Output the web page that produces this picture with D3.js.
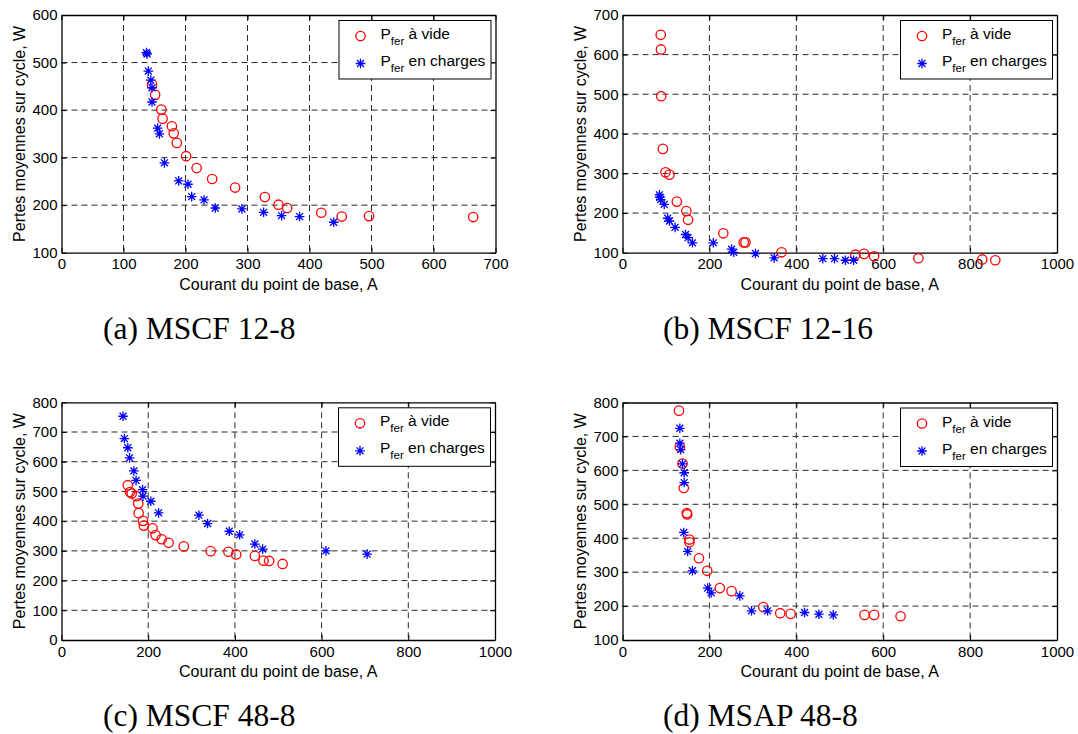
<!DOCTYPE html>
<html><head><meta charset="utf-8">
<script src="https://cdn.jsdelivr.net/npm/d3@7"></script>
<style>body{margin:0;background:#fff}svg{display:block}</style>
</head><body><svg id="chart" width="1078" height="734"></svg>
<script>
// ---------- data ----------
const a_vide_x = [146, 151, 161, 163, 178, 181, 186, 201, 218, 243, 280, 328, 350, 364, 419, 452, 496, 664];
const a_vide_y = [454, 432, 401, 382, 366, 351, 331, 303, 278, 255, 237, 217, 201, 194, 184, 176, 177, 175];
const a_charge_x = [137, 138, 140, 144, 146, 146, 155, 158, 166, 189, 204, 210, 230, 248, 291, 326, 355, 384, 439];
const a_charge_y = [521, 518, 482, 463, 447, 417, 362, 350, 289, 251, 244, 218, 211, 194, 192, 185, 178, 176, 164];

const b_vide_x = [88, 88.5, 89, 93, 99, 108, 125, 147, 151, 232, 279, 283, 366, 536, 556, 579, 681, 828, 858];
const b_vide_y = [650, 613, 495, 362, 303, 297, 229, 205, 183, 149, 126, 126, 101, 95, 97, 91, 86, 83, 81];
const b_charge_x = [85, 86, 88, 96, 104, 108, 121, 145, 151, 161, 209, 251, 256, 306, 349, 461, 488, 513, 532];
const b_charge_y = [246, 240, 234, 222, 187, 180, 164, 146, 138, 125, 125, 109, 101, 98, 87, 85, 85, 81, 81];

const c_vide_x = [153, 158, 162, 173, 177, 178, 188, 190, 210, 217, 231, 247, 282, 344, 385, 403, 446, 466, 479, 510];
const c_vide_y = [521, 498, 493, 484, 459, 427, 401, 385, 376, 353, 339, 327, 315, 299, 297, 288, 283, 267, 266, 256];
const c_charge_x = [142, 145, 153, 157, 167, 172, 187, 188, 206, 224, 317, 337, 387, 411, 446, 464, 610, 705];
const c_charge_y = [753, 678, 647, 613, 569, 537, 506, 484, 467, 428, 420, 392, 366, 354, 323, 306, 300, 289];

const d_vide_x = [130, 132, 138, 141, 148, 149, 154, 154, 176, 195, 224, 251, 324, 363, 387, 557, 579, 640];
const d_vide_y = [776, 669, 620, 548, 474, 470, 396, 388, 341, 304, 253, 244, 197, 179, 177, 174, 174, 170];
const d_charge_x = [132, 132, 134, 138, 142, 142, 141, 150, 161, 196, 204, 270, 297, 334, 419, 452, 485];
const d_charge_y = [724, 680, 661, 619, 593, 564, 417, 361, 304, 253, 239, 230, 186, 186, 181, 176, 174];

const a_xticks = [0, 100, 200, 300, 400, 500, 600, 700];
const a_yticks = [100, 200, 300, 400, 500, 600];
const b_xticks = [0, 200, 400, 600, 800, 1000];
const b_yticks = [100, 200, 300, 400, 500, 600, 700];
const c_xticks = [0, 200, 400, 600, 800, 1000];
const c_yticks = [0, 100, 200, 300, 400, 500, 600, 700, 800];
const d_xticks = [0, 200, 400, 600, 800, 1000];
const d_yticks = [100, 200, 300, 400, 500, 600, 700, 800];

const captions = ["(a) MSCF 12-8", "(b) MSCF 12-16", "(c) MSCF 48-8", "(d) MSAP 48-8"];
const xLabel = "Courant du point de base, A";
const yLabel = "Pertes moyennes sur cycle, W";
const legendSub = "fer";
const legendLabels = [" à vide", " en charges"];

// ---------- layout ----------
const panels = [
  {box:[61.5, 15, 495.5, 252.7], xt:a_xticks, yt:a_yticks, vx:a_vide_x, vy:a_vide_y, cx:a_charge_x, cy:a_charge_y, cap:captions[0], capX:103, capY:339},
  {box:[622.5, 15, 1057, 252.7], xt:b_xticks, yt:b_yticks, vx:b_vide_x, vy:b_vide_y, cx:b_charge_x, cy:b_charge_y, cap:captions[1], capX:663, capY:339},
  {box:[61.5, 402.3, 495, 640], xt:c_xticks, yt:c_yticks, vx:c_vide_x, vy:c_vide_y, cx:c_charge_x, cy:c_charge_y, cap:captions[2], capX:103, capY:726},
  {box:[622.5, 402.5, 1057, 640], xt:d_xticks, yt:d_yticks, vx:d_vide_x, vy:d_vide_y, cx:d_charge_x, cy:d_charge_y, cap:captions[3], capX:663, capY:726}
];

const svg = d3.select("#chart");
svg.append("rect").attr("width",1078).attr("height",734).attr("fill","#fff");
const SANS = "'Liberation Sans', Arial, Helvetica, sans-serif";
const SERIF = "'Liberation Serif', 'Times New Roman', serif";
const RED = "#ff0000", BLUE = "#0000ff";

function starPath(s){
  const d = s*0.72;
  return `M${-s},0L${s},0M0,${-s}L0,${s}M${-d},${-d}L${d},${d}M${-d},${d}L${d},${-d}`;
}

panels.forEach(p => {
  const [x0,y0,x1,y1] = p.box;
  const x = d3.scaleLinear().domain(d3.extent(p.xt)).range([x0,x1]);
  const y = d3.scaleLinear().domain(d3.extent(p.yt)).range([y1,y0]);
  const g = svg.append("g");

  // grid
  const grid = g.append("g").attr("stroke","#2a2a2a").attr("stroke-width",1).attr("stroke-dasharray","6,4").attr("fill","none");
  p.xt.slice(1,-1).forEach(t => grid.append("line").attr("x1",x(t)).attr("x2",x(t)).attr("y1",y0).attr("y2",y1));
  p.yt.slice(1,-1).forEach(t => grid.append("line").attr("y1",y(t)).attr("y2",y(t)).attr("x1",x0).attr("x2",x1));

  // axes
  const styleAxis = sel => {
    sel.selectAll("path").attr("stroke","#000").attr("stroke-width",1.3);
    sel.selectAll("line").attr("stroke","#000").attr("stroke-width",1);
    sel.selectAll("text").attr("font-family",SANS).attr("font-size",15).attr("fill","#000");
  };
  g.append("g").attr("transform",`translate(0,${y1})`)
    .call(d3.axisBottom(x).tickValues(p.xt).tickSizeInner(-5).tickSizeOuter(0).tickPadding(6).tickFormat(d3.format("d")))
    .call(styleAxis);
  g.append("g").attr("transform",`translate(${x0},0)`)
    .call(d3.axisLeft(y).tickValues(p.yt).tickSizeInner(-5).tickSizeOuter(0).tickPadding(4).tickFormat(d3.format("d")))
    .call(styleAxis);
  g.append("g").attr("transform",`translate(0,${y0})`)
    .call(d3.axisTop(x).tickValues(p.xt).tickSizeInner(-5).tickSizeOuter(0).tickFormat(""))
    .call(styleAxis);
  g.append("g").attr("transform",`translate(${x1},0)`)
    .call(d3.axisRight(y).tickValues(p.yt).tickSizeInner(-5).tickSizeOuter(0).tickFormat(""))
    .call(styleAxis);

  // axis labels
  g.append("text").attr("x",(x0+x1)/2).attr("y",y1+37).attr("text-anchor","middle")
    .attr("font-family",SANS).attr("font-size",16).text(xLabel);
  g.append("text").attr("transform",`translate(${x0-37},${(y0+y1)/2}) rotate(-90)`).attr("text-anchor","middle")
    .attr("font-family",SANS).attr("font-size",16).text(yLabel);

  // data
  const vide = p.vx.map((v,i)=>[v,p.vy[i]]);
  const charge = p.cx.map((v,i)=>[v,p.cy[i]]);
  g.append("g").selectAll("circle").data(vide).join("circle")
    .attr("cx",d=>x(d[0])).attr("cy",d=>y(d[1])).attr("r",4.7)
    .attr("fill","none").attr("stroke",RED).attr("stroke-width",1.3);
  g.append("g").selectAll("path").data(charge).join("path")
    .attr("transform",d=>`translate(${x(d[0])},${y(d[1])})`).attr("d",starPath(4.8))
    .attr("fill","none").attr("stroke",BLUE).attr("stroke-width",1.3);

  // legend
  const lw = 152, lh = 58.5;
  const lx = x1 - 4.5 - lw, ly = y0 + 5.5;
  const lg = g.append("g");
  lg.append("rect").attr("x",lx).attr("y",ly).attr("width",lw).attr("height",lh)
    .attr("fill","#fff").attr("stroke","#000").attr("stroke-width",1);
  lg.append("circle").attr("cx",lx+21.5).attr("cy",ly+15.5).attr("r",4.7)
    .attr("fill","none").attr("stroke",RED).attr("stroke-width",1.3);
  lg.append("path").attr("transform",`translate(${lx+21.5},${ly+43})`).attr("d",starPath(4.8))
    .attr("fill","none").attr("stroke",BLUE).attr("stroke-width",1.3);
  legendLabels.forEach((lab,i) => {
    const t = lg.append("text").attr("x",lx+41.5).attr("y",ly+18.6+i*27)
      .attr("font-family",SANS).attr("font-size",15.5).attr("fill","#000");
    t.append("tspan").text("P");
    t.append("tspan").attr("dy",6).attr("font-size",11.5).text(legendSub);
    t.append("tspan").attr("dy",-6).text(lab);
  });

  // caption
  svg.append("text").attr("x",p.capX).attr("y",p.capY).attr("font-family",SERIF)
    .attr("font-size",31.5).attr("fill","#000").text(p.cap);
});
</script></body></html>
